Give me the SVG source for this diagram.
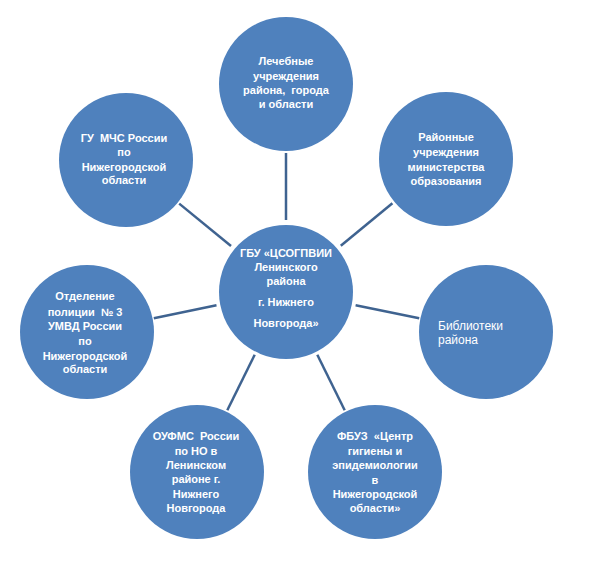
<svg xmlns="http://www.w3.org/2000/svg" width="603" height="582" viewBox="0 0 603 582">
<style>
.n{fill:#4f81bd;}
.t{font-family:"Liberation Sans",Arial,sans-serif;font-size:11px;font-weight:bold;fill:#ffffff;text-anchor:middle;white-space:pre;}
.r{font-family:"Liberation Sans",Arial,sans-serif;font-size:12px;fill:#ffffff;}
.c{stroke:#3f6390;stroke-width:2.5;fill:none;}
</style>
<rect width="603" height="582" fill="#ffffff"/>
<g id="connectors">
<line class="c" x1="286" y1="220" x2="286" y2="153"/>
<line class="c" x1="340.8" y1="245.8" x2="392.4" y2="203.2"/>
<line class="c" x1="231" y1="246" x2="179.2" y2="203.6"/>
<line class="c" x1="216.5" y1="305.3" x2="153.8" y2="318.2"/>
<line class="c" x1="355.6" y1="305.3" x2="419.2" y2="318.3"/>
<line class="c" x1="254.7" y1="354.7" x2="227.3" y2="410.3"/>
<line class="c" x1="317.3" y1="354.7" x2="344.7" y2="410.3"/>
</g>
<g id="center">
<circle class="n" cx="286" cy="292" r="67"/>
<text class="t" x="286" y="257">ГБУ «ЦСОГПВИИ</text>
<text class="t" x="286" y="271">Ленинского</text>
<text class="t" x="286" y="285">района</text>
<text class="t" x="286" y="306">г. Нижнего</text>
<text class="t" x="286" y="327">Новгорода»</text>
</g>
<g id="top">
<circle class="n" cx="286" cy="84" r="67"/>
<text class="t" x="286" y="65">Лечебные</text>
<text class="t" x="286" y="80">учреждения</text>
<text class="t" x="286" y="94">района,  города</text>
<text class="t" x="286" y="108">и области</text>
</g>
<g id="upper-right">
<circle class="n" cx="446" cy="159" r="67"/>
<text class="t" x="446" y="141">Районные</text>
<text class="t" x="446" y="156">учреждения</text>
<text class="t" x="446" y="171">министерства</text>
<text class="t" x="446" y="185">образования</text>
</g>
<g id="upper-left">
<circle class="n" cx="126" cy="160" r="67"/>
<text class="t" x="124" y="142">ГУ  МЧС России</text>
<text class="t" x="124" y="156">по</text>
<text class="t" x="124" y="171">Нижегородской</text>
<text class="t" x="124" y="184">области</text>
</g>
<g id="left">
<circle class="n" cx="87" cy="332" r="67"/>
<text class="t" x="85" y="300">Отделение</text>
<text class="t" x="85" y="316">полиции  № 3</text>
<text class="t" x="85" y="330">УМВД России</text>
<text class="t" x="85" y="345">по</text>
<text class="t" x="85" y="360">Нижегородской</text>
<text class="t" x="85" y="373">области</text>
</g>
<g id="right">
<circle class="n" cx="486" cy="332" r="67"/>
<text class="r" x="438" y="330">Библиотеки</text>
<text class="r" x="438" y="344">района</text>
</g>
<g id="lower-left">
<circle class="n" cx="197" cy="472" r="67"/>
<text class="t" x="196" y="440">ОУФМС  России</text>
<text class="t" x="196" y="455">по НО в</text>
<text class="t" x="196" y="469">Ленинском</text>
<text class="t" x="196" y="483">районе г.</text>
<text class="t" x="196" y="498">Нижнего</text>
<text class="t" x="196" y="512">Новгорода</text>
</g>
<g id="lower-right">
<circle class="n" cx="375" cy="472" r="67"/>
<text class="t" x="375" y="440">ФБУЗ  «Центр</text>
<text class="t" x="375" y="455">гигиены и</text>
<text class="t" x="375" y="469">эпидемиологии</text>
<text class="t" x="375" y="484">в</text>
<text class="t" x="375" y="498">Нижегородской</text>
<text class="t" x="375" y="512">области»</text>
</g>
</svg>
